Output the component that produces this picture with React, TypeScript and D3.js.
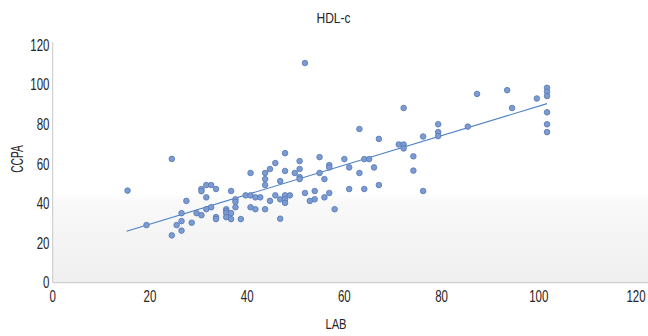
import { useEffect, useRef } from 'react';
import * as d3 from 'd3';

// LAB (x) vs CCPA (y)
const labValues = [
  15.4, 19.3, 24.5, 24.5, 25.5, 26.5, 26.5, 26.5, 27.5, 28.6,
  29.6, 30.6, 30.6, 30.6, 31.6, 31.6, 31.6, 32.6, 32.6, 33.6,
  33.6, 33.6, 35.7, 35.7, 35.7, 35.7, 36.7, 36.7, 36.7, 37.6,
  37.6, 37.6, 38.7, 39.7, 40.7, 40.7, 40.7, 41.7, 41.7, 42.7,
  43.7, 43.7, 43.7, 43.7, 44.7, 44.7, 45.8, 45.8, 46.8, 46.8,
  46.8, 47.8, 47.8, 47.8, 47.8, 47.8, 48.8, 49.8, 50.8, 50.8,
  50.8, 50.8, 51.9, 51.9, 52.9, 53.9, 53.9, 54.9, 54.9, 55.9,
  55.9, 56.9, 56.9, 56.9, 58.0, 60.0, 61.0, 61.0, 63.1, 63.1,
  64.1, 64.1, 65.1, 66.1, 67.1, 67.1, 71.2, 72.2, 72.2, 72.2,
  74.2, 74.2, 76.2, 76.2, 79.3, 79.3, 79.3, 85.4, 87.3, 93.5,
  94.5, 99.6, 101.7, 101.7, 101.7, 101.7, 101.7, 101.7,
];
const ccpaValues = [
  46.5, 29.1, 62.5, 23.9, 29.1, 35.1, 31.1, 26.3, 41.3, 30.3,
  35.1, 34.1, 47.3, 46.2, 49.3, 43.1, 37.1, 49.3, 38.1, 47.3,
  33.1, 32.1, 37.1, 36.1, 35.1, 33.1, 46.3, 35.1, 32.1, 42.1,
  40.8, 38.1, 32.1, 44.1, 55.4, 44.1, 38.1, 43.1, 37.1, 43.1,
  55.4, 52.3, 49.3, 37.1, 57.4, 41.3, 60.4, 44.1, 51.3, 42.1,
  32.3, 65.4, 56.4, 44.1, 42.1, 40.3, 44.1, 55.4, 61.4, 57.4,
  53.3, 52.3, 110.9, 45.3, 41.3, 46.3, 42.1, 63.4, 55.4, 52.3,
  43.1, 59.4, 58.2, 45.3, 37.1, 62.4, 58.2, 47.3, 77.6, 55.4,
  62.4, 47.3, 62.4, 58.2, 72.6, 49.3, 69.8, 88.2, 69.8, 67.8,
  63.8, 56.6, 73.8, 46.3, 80.0, 76.0, 74.0, 78.8, 95.3, 97.2,
  88.2, 93.0, 98.4, 96.4, 94.2, 86.0, 80.0, 76.0,
];
// fitted line end points
const trendLab = [15.2, 101.7];
const trendCcpa = [26.0, 90.4];

const xTicks = [0, 20, 40, 60, 80, 100, 120];
const yTicks = [0, 20, 40, 60, 80, 100, 120];

export default function App() {
  const svgRef = useRef<SVGSVGElement | null>(null);

  useEffect(() => {
    const width = 648;
    const height = 336;
    const font = '"Liberation Sans", Arial, sans-serif';

    const svg = d3.select(svgRef.current);
    svg.selectAll('*').remove();
    svg.attr('width', width).attr('height', height);

    const x = d3.scaleLinear().domain([0, 120]).range([52.7, 636]);
    const y = d3.scaleLinear().domain([0, 120]).range([282.7, 45]);

    const defs = svg.append('defs');
    const grad = defs.append('linearGradient')
      .attr('id', 'plotBg')
      .attr('x1', 0).attr('y1', 0).attr('x2', 0).attr('y2', 1);
    grad.append('stop').attr('offset', '0%').attr('stop-color', '#ffffff');
    grad.append('stop').attr('offset', '62%').attr('stop-color', '#ffffff');
    grad.append('stop').attr('offset', '66%').attr('stop-color', '#f9f9f9');
    grad.append('stop').attr('offset', '100%').attr('stop-color', '#efefef');

    svg.append('rect')
      .attr('x', x(0))
      .attr('y', y(120))
      .attr('width', width - x(0))
      .attr('height', y(0) - y(120))
      .attr('fill', 'url(#plotBg)');

    // axes lines
    svg.append('line')
      .attr('x1', x(0)).attr('x2', width)
      .attr('y1', y(0)).attr('y2', y(0))
      .attr('stroke', '#c8c8c8').attr('stroke-width', 1);
    svg.append('line')
      .attr('x1', x(0)).attr('x2', x(0))
      .attr('y1', y(120) - 3).attr('y2', y(0))
      .attr('stroke', '#c8c8c8').attr('stroke-width', 1);

    // the original uses a narrow face, so squeeze the text horizontally
    const label = (tx: number, ty: number, txt: string, size: number, anchor: string, sx: number, rot = 0) =>
      svg.append('text')
        .attr('transform', `translate(${tx},${ty}) rotate(${rot}) scale(${sx},1)`)
        .attr('text-anchor', anchor)
        .attr('font-family', font)
        .attr('font-size', size)
        .attr('fill', '#262626')
        .text(txt);

    xTicks.forEach(d => label(x(d), 302, String(d), 16, 'middle', 0.72));
    yTicks.forEach(d => label(49.5, y(d) + 5.7, String(d), 16, 'end', 0.72));

    // trend line
    svg.append('line')
      .attr('x1', x(trendLab[0])).attr('y1', y(trendCcpa[0]))
      .attr('x2', x(trendLab[1])).attr('y2', y(trendCcpa[1]))
      .attr('stroke', '#4f81c4')
      .attr('stroke-width', 1.1);

    const points = labValues.map((v, i) => ({ lab: v, ccpa: ccpaValues[i] }));
    svg.append('g')
      .selectAll('circle')
      .data(points)
      .enter()
      .append('circle')
      .attr('cx', d => x(d.lab))
      .attr('cy', d => y(d.ccpa))
      .attr('r', 2.8)
      .attr('fill', '#7b9bd2')
      .attr('stroke', '#5577b4')
      .attr('stroke-width', 0.8);

    label(333.5, 22.7, 'HDL-c', 14, 'middle', 0.86);
    label(336, 329.3, 'LAB', 15.5, 'middle', 0.72);
    label(23.3, 159, 'CCPA', 16, 'middle', 0.64, -90);
  }, []);

  return (
    <div style={{ position: 'absolute', left: 0, top: 0 }}>
      <svg ref={svgRef} style={{ display: 'block' }} />
    </div>
  );
}
